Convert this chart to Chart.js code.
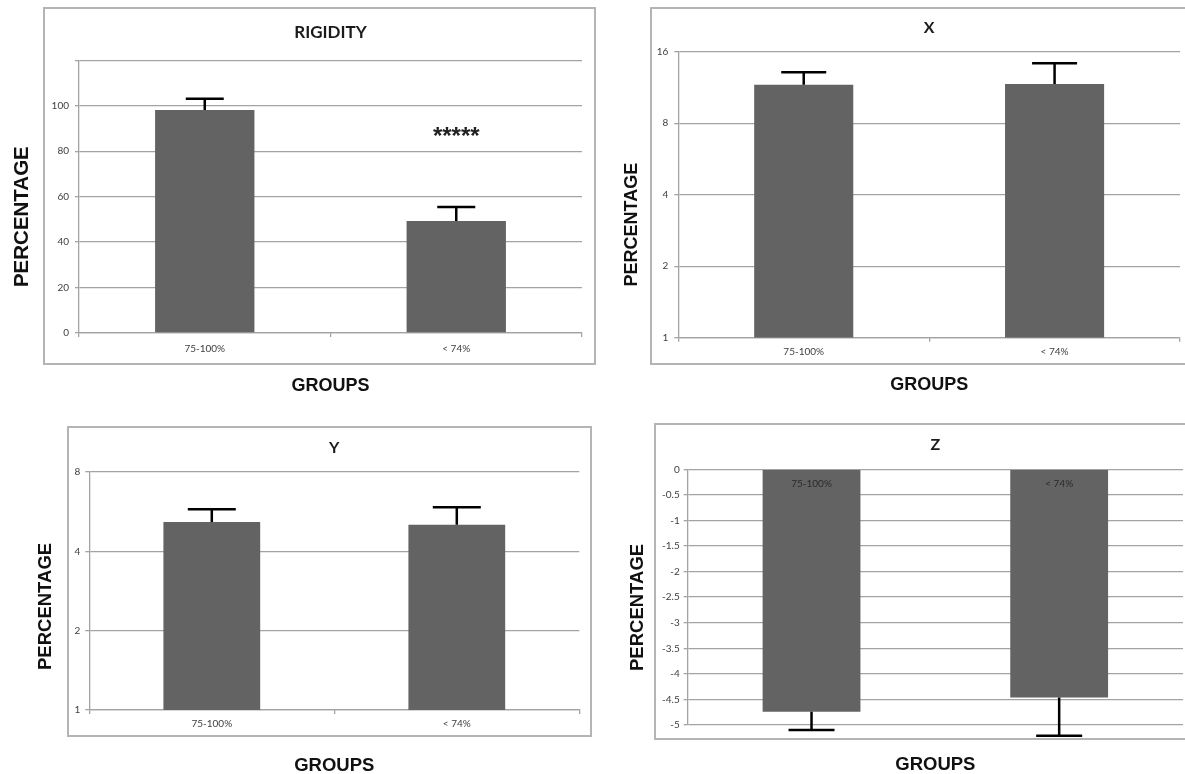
<!DOCTYPE html>
<html>
<head>
<meta charset="utf-8">
<script src="https://cdn.jsdelivr.net/npm/chart.js@4.4.1/dist/chart.umd.min.js"></script>
<style>
  html, body { margin: 0; padding: 0; background: #fff; overflow: hidden; }
  body { width: 1185px; height: 774px; position: relative; }
  .frame { position: absolute; border: 2px solid #b4b4b4; box-sizing: border-box; background: #fff; }
  canvas { position: absolute; }
</style>
</head>
<body>
<div class="frame" style="left:43px;top:7px;width:553px;height:358px"></div>
<div class="frame" style="left:650px;top:7px;width:560px;height:358px"></div>
<div class="frame" style="left:67px;top:426px;width:525px;height:311px"></div>
<div class="frame" style="left:654px;top:423px;width:560px;height:317px"></div>
<canvas id="rigidity" width="600" height="400" style="left:0;top:0"></canvas>
<canvas id="xChart" width="585" height="400" style="left:600px;top:0"></canvas>
<canvas id="yChart" width="600" height="380" style="left:0;top:400px"></canvas>
<canvas id="zChart" width="585" height="380" style="left:600px;top:400px"></canvas>
<script>
// data
const groups = ["75-100%", "< 74%"];

const rigidityMean = [98.2, 49.3];
const rigidityErr = [4.9, 6.2];
const rigidityMarks = ["", "*****"];
const rigidityMarkAt = [null, 89];
const rigidityTicks = [0, 20, 40, 60, 80, 100, 120];

const xMean = [11.6, 11.7];
const xErr = [1.5, 2.6];
const xTicks = [1, 2, 4, 8, 16];

const yMean = [5.17, 5.05];
const yErr = [0.61, 0.83];
const yTicks = [1, 2, 4, 8];

const zMean = [-4.74, -4.46];
const zErr = [0.36, 0.75];
const zTicks = [0, -0.5, -1, -1.5, -2, -2.5, -3, -3.5, -4, -4.5, -5];

const barGray = "#636363";
const gridGray = "#a3a3a3";
const tickFont = { family: "Lato", size: 10 };
const tickColor = "#404040";

// upper (or lower, for negative bars) error whiskers
const errorBars = {
  id: "errorBars",
  afterDatasetsDraw(chart) {
    const ds = chart.data.datasets[0];
    const meta = chart.getDatasetMeta(0);
    const ys = chart.scales.y;
    const ctx = chart.ctx;
    ctx.save();
    ctx.strokeStyle = "#000";
    ctx.lineWidth = 2.5;
    meta.data.forEach((bar, i) => {
      const v = ds.data[i];
      const end = v >= 0 ? v + ds.errors[i] : v - ds.errors[i];
      const y0 = ys.getPixelForValue(v);
      const y1 = ys.getPixelForValue(end);
      ctx.beginPath();
      ctx.moveTo(bar.x, y0);
      ctx.lineTo(bar.x, y1);
      ctx.moveTo(bar.x - ds.capWidth / 2, y1);
      ctx.lineTo(bar.x + ds.capWidth / 2, y1);
      ctx.stroke();
    });
    ctx.restore();
  },
};

// significance stars
const starMarks = {
  id: "starMarks",
  afterDatasetsDraw(chart) {
    const ds = chart.data.datasets[0];
    if (!ds.marks) return;
    const { ctx, scales } = chart;
    ctx.save();
    ctx.font = 'bold 24px "Liberation Sans"';
    ctx.fillStyle = "#222";
    ctx.textAlign = "center";
    ctx.textBaseline = "alphabetic";
    ds.marks.forEach((m, i) => {
      if (!m) return;
      ctx.fillText(m, scales.x.getPixelForValue(i), scales.y.getPixelForValue(ds.markAt[i]) + 13);
    });
    ctx.restore();
  },
};

function axisTitle(text, size, padding) {
  return {
    display: true,
    text: text,
    color: "#111",
    font: { family: "Liberation Sans", weight: "bold", size: size },
    padding: padding,
  };
}

function makeChart(id, c) {
  const xAxes = c.zeroLabels
    ? {
        x: {
          afterFit: (s) => { s.height = c.xHeight; },
          ticks: { display: false },
          grid: { display: false },
          border: { display: false },
          title: axisTitle("GROUPS", c.groupsSize, { top: 0, bottom: c.groupsPad }),
        },
        x2: {
          axis: "x",
          type: "category",
          offset: true,
          position: { y: 0 },
          afterFit: (s) => { s.height = 0; },
          ticks: { z: 1, font: tickFont, color: "#2a2a2a", padding: c.xPad, maxRotation: 0 },
          grid: { drawOnChartArea: false, drawTicks: false },
          border: { display: false },
        },
      }
    : {
        x: {
          afterFit: (s) => { s.height = c.xHeight; },
          ticks: { font: tickFont, color: tickColor, padding: c.xPad, maxRotation: 0 },
          grid: { drawOnChartArea: false, drawTicks: true, tickLength: 4, color: gridGray, lineWidth: 1.3 },
          border: { color: gridGray, width: 1.3 },
          title: axisTitle("GROUPS", c.groupsSize, { top: 0, bottom: c.groupsPad }),
        },
      };

  // trailing spaces nudge the rotated title down, as in the original
  const percentText = "PERCENTAGE" + " ".repeat(c.percentSpaces);

  return new Chart(document.getElementById(id), {
    type: "bar",
    data: {
      labels: groups,
      datasets: [
        {
          data: c.values,
          errors: c.errors,
          capWidth: c.capWidth,
          marks: c.marks,
          markAt: c.markAt,
          backgroundColor: barGray,
          barPercentage: 0.395,
          categoryPercentage: 1,
        },
      ],
    },
    options: {
      responsive: false,
      animation: false,
      layout: { padding: { left: 0, right: c.padRight, top: 0, bottom: 0 } },
      plugins: {
        legend: { display: false },
        tooltip: { enabled: false },
        title: {
          display: true,
          text: c.title,
          fullSize: false,
          color: "#1a1a1a",
          font: { family: "Lato", weight: "bold", size: c.titleSize },
          padding: c.titlePad,
        },
      },
      scales: Object.assign({}, xAxes, {
        y: {
          type: c.yType,
          min: c.yMin,
          max: c.yMax,
          afterFit: (s) => { s.width = c.yWidth; },
          afterBuildTicks: (s) => { s.ticks = c.ticks.map((v) => ({ value: v })); },
          ticks: {
            font: tickFont,
            color: tickColor,
            padding: c.yPad,
            callback: c.tickLabel || ((v) => String(v)),
          },
          grid: { color: gridGray, lineWidth: 1.3, tickLength: 4 },
          border: { color: gridGray, width: 1.3 },
          title: axisTitle(percentText, c.percentSize, { top: c.percentPad, bottom: 0 }),
        },
      }),
    },
    plugins: [errorBars, starMarks],
  });
}

makeChart("rigidity", {
  title: "RIGIDITY", titleSize: 17, titlePad: { top: 22, bottom: 18 },
  values: rigidityMean, errors: rigidityErr, capWidth: 38,
  marks: rigidityMarks, markAt: rigidityMarkAt,
  yType: "linear", yMin: 0, yMax: 120, ticks: rigidityTicks,
  tickLabel: (v) => (v > 100 ? "" : String(v)),
  yWidth: 79, yPad: 6, padRight: 18,
  xHeight: 67, xPad: 6,
  percentSize: 20.5, percentPad: 9.7, percentSpaces: 7,
  groupsSize: 18, groupsPad: 2.7,
});

makeChart("xChart", {
  title: "X", titleSize: 16, titlePad: { top: 18.4, bottom: 14.1 },
  values: xMean, errors: xErr, capWidth: 45,
  yType: "logarithmic", yMin: 1, yMax: 16, ticks: xTicks,
  yWidth: 78.3, yPad: 6, padRight: 5,
  xHeight: 62.3, xPad: 4.3,
  percentSize: 18, percentPad: 21.2, percentSpaces: 12,
  groupsSize: 18, groupsPad: 4.2,
});

makeChart("yChart", {
  title: "Y", titleSize: 16, titlePad: { top: 38.7, bottom: 14.1 },
  values: yMean, errors: yErr, capWidth: 48,
  yType: "logarithmic", yMin: 1, yMax: 8, ticks: yTicks,
  yWidth: 89.3, yPad: 5, padRight: 20.7,
  xHeight: 70, xPad: 3.3,
  percentSize: 18.5, percentPad: 34.9, percentSpaces: 6,
  groupsSize: 18.5, groupsPad: 2.9,
});

makeChart("zChart", {
  title: "Z", titleSize: 16, titlePad: { top: 35.4, bottom: 14.7 },
  values: zMean, errors: zErr, capWidth: 46,
  yType: "linear", yMin: -5, yMax: 0, ticks: zTicks,
  yWidth: 87.7, yPad: 4, padRight: 2,
  xHeight: 55, xPad: 8, zeroLabels: true,
  percentSize: 18.5, percentPad: 26.4, percentSpaces: 4,
  groupsSize: 18.5, groupsPad: 3.9,
});
</script>
</body>
</html>
